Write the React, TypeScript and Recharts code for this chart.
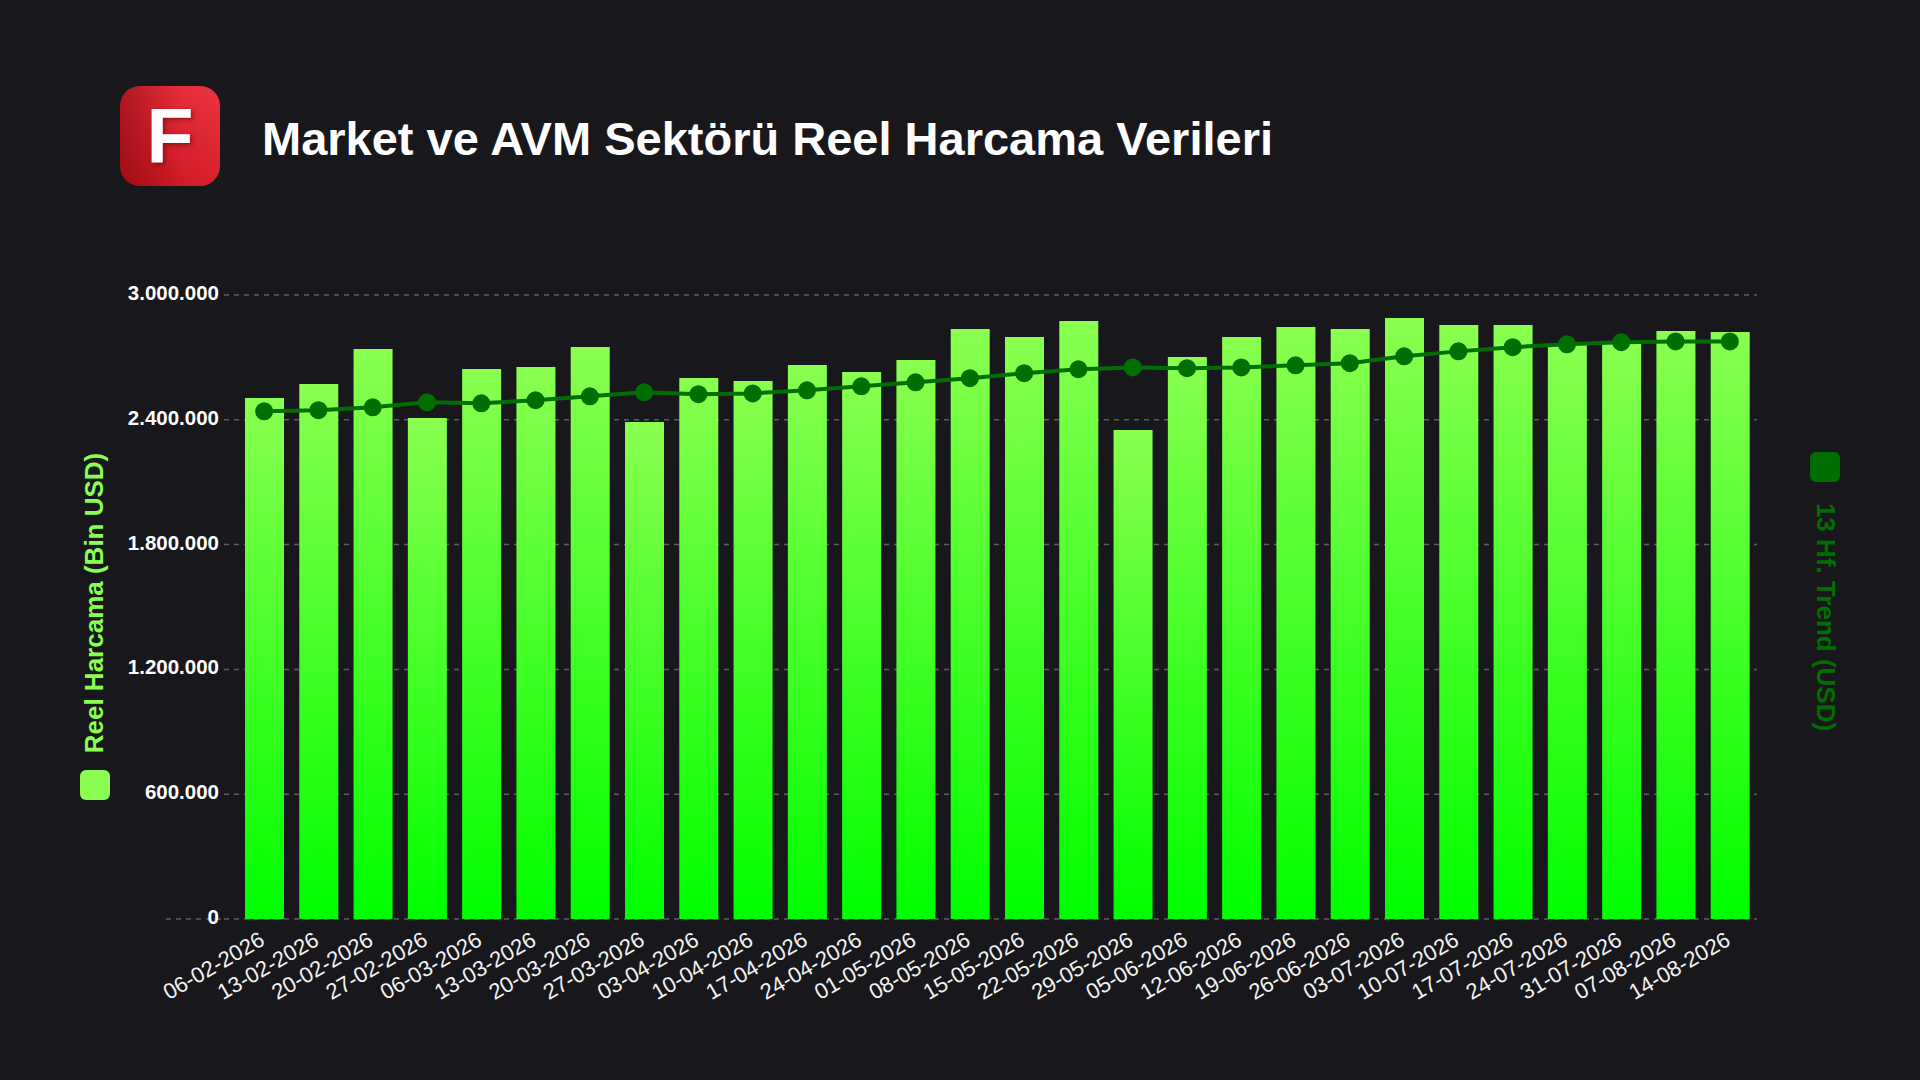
import React from "react";
import { ComposedChart, Bar, Line, XAxis, YAxis, CartesianGrid, Legend } from "recharts";

const TITLE = "Market ve AVM Sektörü Reel Harcama Verileri";
const BAR_NAME = "Reel Harcama (Bin USD)";
const LINE_NAME = "13 Hf. Trend (USD)";
const BAR_COLOR = "#8aff50";
const LINE_COLOR = "#006e00";
const BG = "#18181c";
const FONT = "'Liberation Sans', Arial, sans-serif";

const dates = [
  "06-02-2026", "13-02-2026", "20-02-2026", "27-02-2026", "06-03-2026", "13-03-2026", "20-03-2026",
  "27-03-2026", "03-04-2026", "10-04-2026", "17-04-2026", "24-04-2026", "01-05-2026", "08-05-2026",
  "15-05-2026", "22-05-2026", "29-05-2026", "05-06-2026", "12-06-2026", "19-06-2026", "26-06-2026",
  "03-07-2026", "10-07-2026", "17-07-2026", "24-07-2026", "31-07-2026", "07-08-2026", "14-08-2026",
];
const spending = [
  2505000, 2572000, 2740000, 2409000, 2644000, 2654000, 2750000,
  2389000, 2601000, 2587000, 2663000, 2630000, 2688000, 2837000,
  2798000, 2875000, 2351000, 2702000, 2798000, 2846000, 2837000,
  2889000, 2856000, 2856000, 2760000, 2769000, 2827000, 2822000,
];
const trend = [
  2441000, 2446000, 2460000, 2484000, 2479000, 2494000, 2513000,
  2532000, 2523000, 2527000, 2542000, 2561000, 2580000, 2600000,
  2624000, 2643000, 2652000, 2648000, 2652000, 2662000, 2672000,
  2705000, 2729000, 2749000, 2763000, 2773000, 2777000, 2777000,
];
const yTicks = [0, 600000, 1200000, 1800000, 2400000, 3000000];

const data = dates.map((date, i) => ({ date, spending: spending[i], trend: trend[i] }));
const formatTr = (v: number) => String(v).replace(/\B(?=(\d{3})+(?!\d))/g, ".");

const YTick = (props: any) => {
  const { x, y, payload } = props;
  return (
    <g>
      {payload.value === 0 && (
        <line x1={166} x2={224} y1={y} y2={y} stroke="#5f5f63" strokeWidth={1.5} strokeDasharray="5 5" />
      )}
      <text x={x} y={y + 5} textAnchor="end" fill="#ffffff" fontFamily={FONT} fontWeight={700} fontSize={20.5}>
        {formatTr(payload.value)}
      </text>
    </g>
  );
};

const XTick = (props: any) => {
  const { x, y, payload } = props;
  return (
    <text
      x={x + 2}
      y={y + 17}
      textAnchor="end"
      transform={`rotate(-30 ${x + 2} ${y + 17})`}
      fill="#f2f2f2"
      fontFamily={FONT}
      fontSize={22}
    >
      {payload.value}
    </text>
  );
};

const Swatch = ({ left, top, color }: { left: number; top: number; color: string }) => (
  <div style={{ position: "absolute", left, top, width: 30, height: 30, borderRadius: 6, background: color }} />
);

const RotatedLabel = ({ text, color, cx, cy, angle }: { text: string; color: string; cx: number; cy: number; angle: number }) => (
  <div
    style={{
      position: "absolute",
      left: cx,
      top: cy,
      transform: `translate(-50%, -50%) rotate(${angle}deg)`,
      whiteSpace: "nowrap",
      color,
      fontFamily: FONT,
      fontWeight: 700,
      fontSize: 26,
      lineHeight: 1,
    }}
  >
    {text}
  </div>
);

const LegendContent = () => (
  <div>
    <Swatch left={80} top={770} color={BAR_COLOR} />
    <RotatedLabel text={BAR_NAME} color={BAR_COLOR} cx={94} cy={603} angle={-90} />
    <Swatch left={1810} top={452} color={LINE_COLOR} />
    <RotatedLabel text={LINE_NAME} color={LINE_COLOR} cx={1826} cy={617} angle={90} />
  </div>
);

const Logo = () => (
  <div
    style={{
      position: "absolute",
      left: 120,
      top: 86,
      width: 100,
      height: 100,
      borderRadius: 20,
      overflow: "hidden",
      background:
        "linear-gradient(to right, rgba(90,0,5,0.35), rgba(90,0,5,0) 60%), linear-gradient(215deg, #ea3440 0%, #dc2430 45%, #c4121c 100%)",
    }}
  >
    <div
      style={{
        position: "absolute",
        left: 0,
        top: 0,
        width: 100,
        height: 100,
        textAlign: "center",
        lineHeight: "100px",
        fontFamily: FONT,
        fontWeight: 700,
        fontSize: 77,
        color: "#ffffff",
        textShadow: "2px 2px 4px rgba(80,0,0,0.5)",
      }}
    >
      F
    </div>
  </div>
);

export default function App() {
  return (
    <div style={{ position: "fixed", left: 0, top: 0, width: 1920, height: 1080, background: BG, overflow: "hidden" }}>
      <Logo />
      <div
        style={{
          position: "absolute",
          left: 262,
          top: 112,
          fontFamily: FONT,
          fontWeight: 700,
          fontSize: 47,
          lineHeight: "54px",
          color: "#ffffff",
          whiteSpace: "nowrap",
        }}
      >
        {TITLE}
      </div>
      <ComposedChart
        width={1920}
        height={1080}
        data={data}
        margin={{ top: 295, right: 163, bottom: 0, left: 0 }}
        barCategoryGap="28%"
      >
        <defs>
          <linearGradient id="barFill" x1="0" y1="0" x2="0" y2="1">
            <stop offset="0%" stopColor={BAR_COLOR} />
            <stop offset="100%" stopColor="#00ff00" />
          </linearGradient>
        </defs>
        <CartesianGrid vertical={false} stroke="#5f5f63" strokeWidth={1.5} strokeDasharray="5 5" />
        <XAxis
          dataKey="date"
          height={161}
          interval={0}
          padding={{ left: 13, right: 0 }}
          axisLine={false}
          tickLine={false}
          tick={<XTick />}
        />
        <YAxis
          width={224}
          domain={[0, 3000000]}
          ticks={yTicks}
          axisLine={false}
          tickLine={false}
          tickMargin={0}
          tickSize={5}
          tick={<YTick />}
        />
        <Legend
          content={<LegendContent />}
          wrapperStyle={{ position: "absolute", left: 0, top: 0, width: 0, height: 0 }}
        />
        <Bar dataKey="spending" name={BAR_NAME} fill="url(#barFill)" barSize={39} isAnimationActive={false} />
        <Line
          dataKey="trend"
          name={LINE_NAME}
          stroke={LINE_COLOR}
          strokeWidth={4}
          dot={{ r: 9, fill: LINE_COLOR, stroke: LINE_COLOR, strokeWidth: 0 }}
          activeDot={false}
          isAnimationActive={false}
        />
      </ComposedChart>
    </div>
  );
}
